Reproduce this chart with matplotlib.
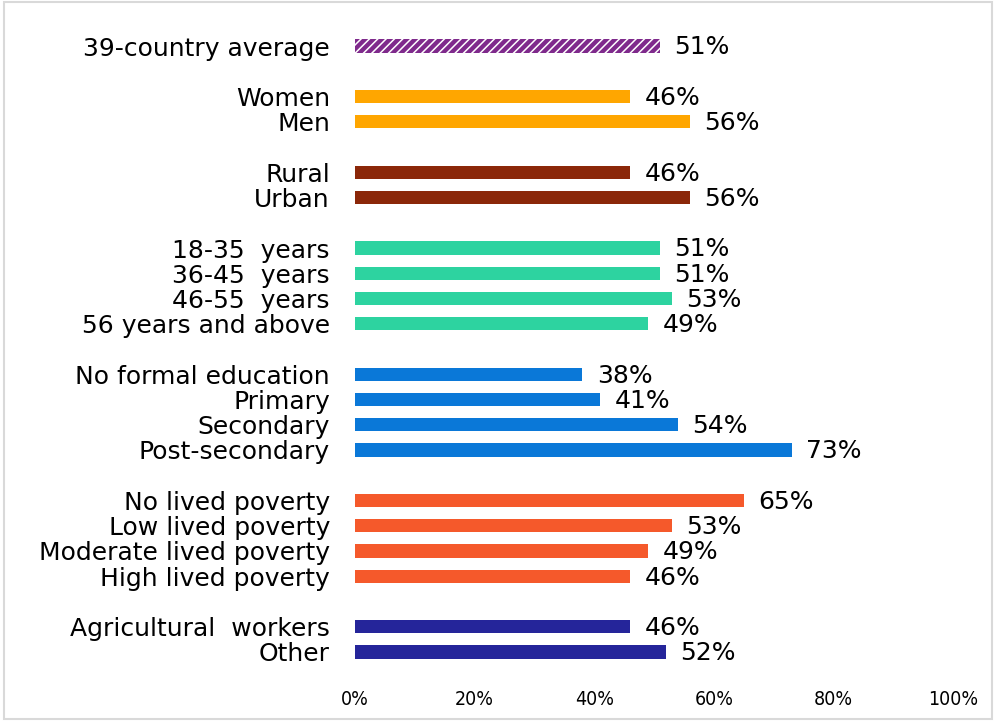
import numpy as np
import matplotlib.pyplot as plt
from matplotlib.patches import Rectangle

# ---------------------------------------------------------
# Share by demographic group (horizontal bars)
# ---------------------------------------------------------

avg_label = ["39-country average"]
avg_vals = [51]

gender_labels = ["Women", "Men"]
gender_vals = [46, 56]

area_labels = ["Rural", "Urban"]
area_vals = [46, 56]

age_labels = ["18-35  years", "36-45  years", "46-55  years", "56 years and above"]
age_vals = [51, 51, 53, 49]

edu_labels = ["No formal education", "Primary", "Secondary", "Post-secondary"]
edu_vals = [38, 41, 54, 73]

pov_labels = ["No lived poverty", "Low lived poverty", "Moderate lived poverty", "High lived poverty"]
pov_vals = [65, 53, 49, 46]

occ_labels = ["Agricultural  workers", "Other"]
occ_vals = [46, 52]

x_ticks = [0, 20, 40, 60, 80, 100]

groups = [
    (avg_label, avg_vals, "#7F2A8C"),
    (gender_labels, gender_vals, "#FFA600"),
    (area_labels, area_vals, "#8B2709"),
    (age_labels, age_vals, "#2DD3A0"),
    (edu_labels, edu_vals, "#0A78D8"),
    (pov_labels, pov_vals, "#F5592B"),
    (occ_labels, occ_vals, "#25259A"),
]

plt.rcParams['font.family'] = 'DejaVu Sans'
plt.rcParams['hatch.linewidth'] = 1.1

fig = plt.figure(figsize=(9.96, 7.21), dpi=100)
ax = fig.add_axes([0.3564, 0.0782, 0.6006, 0.8755])

# build slot positions, one empty slot between groups
ypos, labels = [], []
slot = 0
for gi, (labs, vals, col) in enumerate(groups):
    for lab, v in zip(labs, vals):
        if gi == 0:
            ax.barh(slot, v, height=0.52, color=col, edgecolor="white",
                    hatch="////", lw=0)
        else:
            ax.barh(slot, v, height=0.52, color=col, lw=0)
        ax.text(v + 2.4, slot + 0.05, f"{v}%", va="center", ha="left",
                fontsize=18, color="black")
        ypos.append(slot)
        labels.append(lab)
        slot += 1
    slot += 1

ax.set_ylim(slot - 1.5, -0.5)
ax.set_xlim(0, 100)
ax.set_yticks(ypos)
ax.set_yticklabels(labels, fontsize=18)
ax.set_xticks(x_ticks)
ax.set_xticklabels([f"{t}%" for t in x_ticks], fontsize=14, stretch="condensed")
ax.tick_params(axis="y", length=0, pad=18)
ax.tick_params(axis="x", length=0, pad=18)
for s in ax.spines.values():
    s.set_visible(False)

# light border around the whole figure
fig.patches.append(Rectangle((0.004, 0.003), 0.992, 0.994, transform=fig.transFigure,
                             fill=False, edgecolor="#D9D9D9", lw=1.5))

plt.savefig("out.png", dpi=100)
